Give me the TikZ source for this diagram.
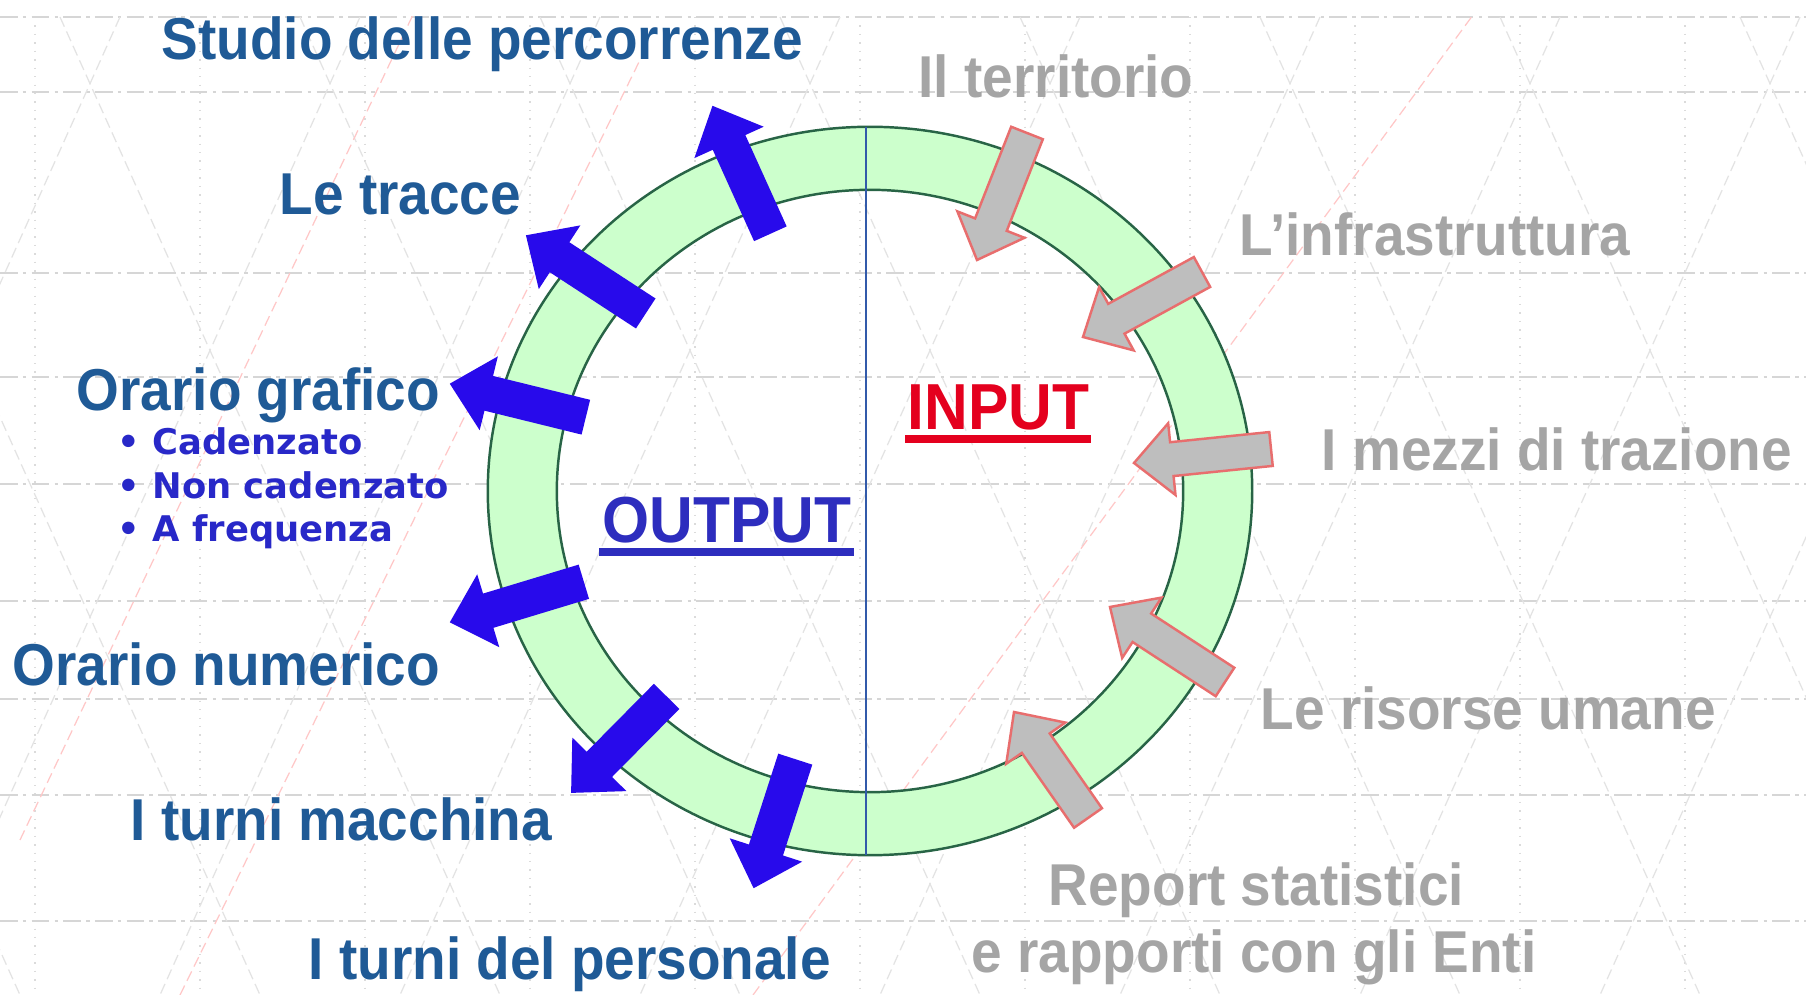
\documentclass[tikz,border=0pt]{standalone}
\usepackage{fontspec}
\setmainfont{Liberation Sans}
\newfontfamily\labfont{Liberation Sans}[FakeStretch=0.93]
\newfontfamily\bulfont{DejaVu Sans}
\usetikzlibrary{calc}
\definecolor{outlab}{RGB}{31,90,150}
\definecolor{bultxt}{RGB}{40,40,200}
\definecolor{outword}{RGB}{45,45,190}
\definecolor{inword}{RGB}{228,0,30}
\definecolor{inlab}{RGB}{165,165,165}
\definecolor{ringfill}{RGB}{204,255,204}
\definecolor{ringline}{RGB}{40,100,70}
\definecolor{bluearr}{RGB}{40,10,235}
\definecolor{grayarr}{RGB}{190,190,190}
\definecolor{grayarrline}{RGB}{232,110,110}
\definecolor{axisline}{RGB}{50,90,170}
\newcommand{\blockarr}[3]{%
  \coordinate (#2-h) at ($(#3)!0.38cm!(#2)$);
  \draw[#1] ($(#2)!0.17cm!90:(#3)$) -- ($(#2-h)!0.17cm!-90:(#2)$) -- ($(#2-h)!0.36cm!-90:(#2)$) -- (#3)
    -- ($(#2-h)!0.36cm!90:(#2)$) -- ($(#2-h)!0.17cm!90:(#2)$) -- ($(#2)!0.17cm!-90:(#3)$) -- cycle;
}
\tikzset{
  bgv/.style={draw=gray!28, line width=0.4pt, dotted},
  bgh/.style={draw=gray!32, line width=0.4pt, dash pattern=on 5pt off 1.5pt on 1pt off 1.5pt},
  bgd/.style={draw=gray!22, line width=0.35pt, dash pattern=on 3pt off 1.5pt},
  bgr/.style={draw=red!22, line width=0.35pt, dash pattern=on 3pt off 1.5pt},
  outlabel/.style={anchor=base west, inner sep=0, text=outlab, font=\labfont\bfseries\fontsize{16.8pt}{20pt}\selectfont},
  inlabel/.style={anchor=base west, inner sep=0, text=inlab, font=\labfont\bfseries\fontsize{16.8pt}{20pt}\selectfont},
  bullab/.style={anchor=base west, inner sep=0, text=bultxt, font=\bulfont\bfseries\fontsize{10.05pt}{12pt}\selectfont},
  bigword/.style={anchor=base west, inner sep=0, font=\labfont\bfseries\fontsize{18.5pt}{22pt}\selectfont},
  bluearrow/.style={fill=bluearr, draw=bluearr, line width=0.5pt, line join=miter},
  grayarrow/.style={fill=grayarr, draw=grayarrline, line width=0.7pt, line join=miter},
}
\begin{document}
\begin{tikzpicture}[x=0.01cm, y=-0.01cm]
\useasboundingbox (0,0) rectangle (1806,995);
\fill[white] (0,0) rectangle (1806,995);
% background timetable
\foreach \x in {35,200,365,530,695,860,1025,1190,1355,1520,1685}
  \draw[bgv] (\x,17) -- (\x,995);
\foreach \y in {17,92,273,377,484,601,699,795,921}
  \draw[bgh] (0,\y) -- (1806,\y);
\begin{scope}
\clip (0,17) rectangle (1806,995);
\foreach \x in {-420,-180,60,300,540,780,1020,1260,1500,1740}
  \draw[bgd] (\x,17) -- (\x+440,995);
\foreach \x in {120,360,600,840,1080,1320,1560,1800,2040,2280}
  \draw[bgd] (\x,17) -- (\x-440,995);
\draw[bgr] (753,995) -- (1484,0);
\draw[bgr] (20,840) -- (420,0);
\draw[bgr] (180,995) -- (640,60);
\end{scope}
% ring
\coordinate (c) at (870,491);
\fill[ringfill, even odd rule] (c) ellipse [x radius=3.82cm, y radius=3.64cm] (c) ellipse [x radius=3.13cm, y radius=3.01cm];
\draw[ringline, line width=0.7pt] (c) ellipse [x radius=3.82cm, y radius=3.64cm];
\draw[ringline, line width=0.7pt] (c) ellipse [x radius=3.13cm, y radius=3.01cm];
\coordinate (vtop) at (866,127);
\coordinate (vbot) at (866,855);
\draw[axisline, line width=0.5pt] (vtop) -- (vbot);
% arrow coordinates
\coordinate (a1t) at (770,233); \coordinate (a1p) at (713,107);
\coordinate (a2t) at (645,313); \coordinate (a2p) at (527,236);
\coordinate (a3t) at (585,417); \coordinate (a3p) at (451,384);
\coordinate (a4t) at (583,582); \coordinate (a4p) at (451,622);
\coordinate (a5t) at (666,697); \coordinate (a5p) at (572,792);
\coordinate (a6t) at (795,760); \coordinate (a6p) at (754,887);
\coordinate (g1t) at (1027,133); \coordinate (g1p) at (977,260);
\coordinate (g2t) at (1202,272); \coordinate (g2p) at (1083,337);
\coordinate (g3t) at (1271,449); \coordinate (g3p) at (1134,463);
\coordinate (g4t) at (1225,682); \coordinate (g4p) at (1110,607);
\coordinate (g5t) at (1088,818); \coordinate (g5p) at (1014,712);
\blockarr{bluearrow}{a1t}{a1p}
\blockarr{bluearrow}{a2t}{a2p}
\blockarr{bluearrow}{a3t}{a3p}
\blockarr{bluearrow}{a4t}{a4p}
\blockarr{bluearrow}{a5t}{a5p}
\blockarr{bluearrow}{a6t}{a6p}
\blockarr{grayarrow}{g1t}{g1p}
\blockarr{grayarrow}{g2t}{g2p}
\blockarr{grayarrow}{g3t}{g3p}
\blockarr{grayarrow}{g4t}{g4p}
\blockarr{grayarrow}{g5t}{g5p}
% output labels
\node[outlabel] (studio) at (161,60) {Studio delle percorrenze};
\node[outlabel] (tracce) at (279,215) {Le tracce};
\node[outlabel] (grafico) at (76,411) {Orario grafico};
\node[bullab] (b1) at (117,455) {• Cadenzato};
\node[bullab] (b2) at (117,499) {• Non cadenzato};
\node[bullab] (b3) at (117,542) {• A frequenza};
\node[outlabel] (numerico) at (12,686) {Orario numerico};
\node[outlabel] (macchina) at (130,841) {I turni macchina};
\node[outlabel] (personale) at (308,980) {I turni del personale};
% input labels
\node[inlabel] (territorio) at (918,98) {Il territorio};
\node[inlabel] (infra) at (1239,256) {L’infrastruttura};
\node[inlabel] (mezzi) at (1321,471) {I mezzi di trazione};
\node[inlabel] (risorse) at (1260,730) {Le risorse umane};
\node[inlabel] (report) at (1048,906) {Report statistici};
\node[inlabel] (enti) at (971,972) {e rapporti con gli Enti};
% OUTPUT / INPUT
\node[bigword, text=outword] (out) at (602,543) {OUTPUT};
\draw[outword, line width=2pt] ($(out.base west)+(-3,9)$) -- ($(out.base east)+(2,9)$);
\node[bigword, text=inword] (in) at (907,430) {INPUT};
\draw[inword, line width=2pt] ($(in.base west)+(-2,9)$) -- ($(in.base east)+(1,9)$);
\end{tikzpicture}
\end{document}
